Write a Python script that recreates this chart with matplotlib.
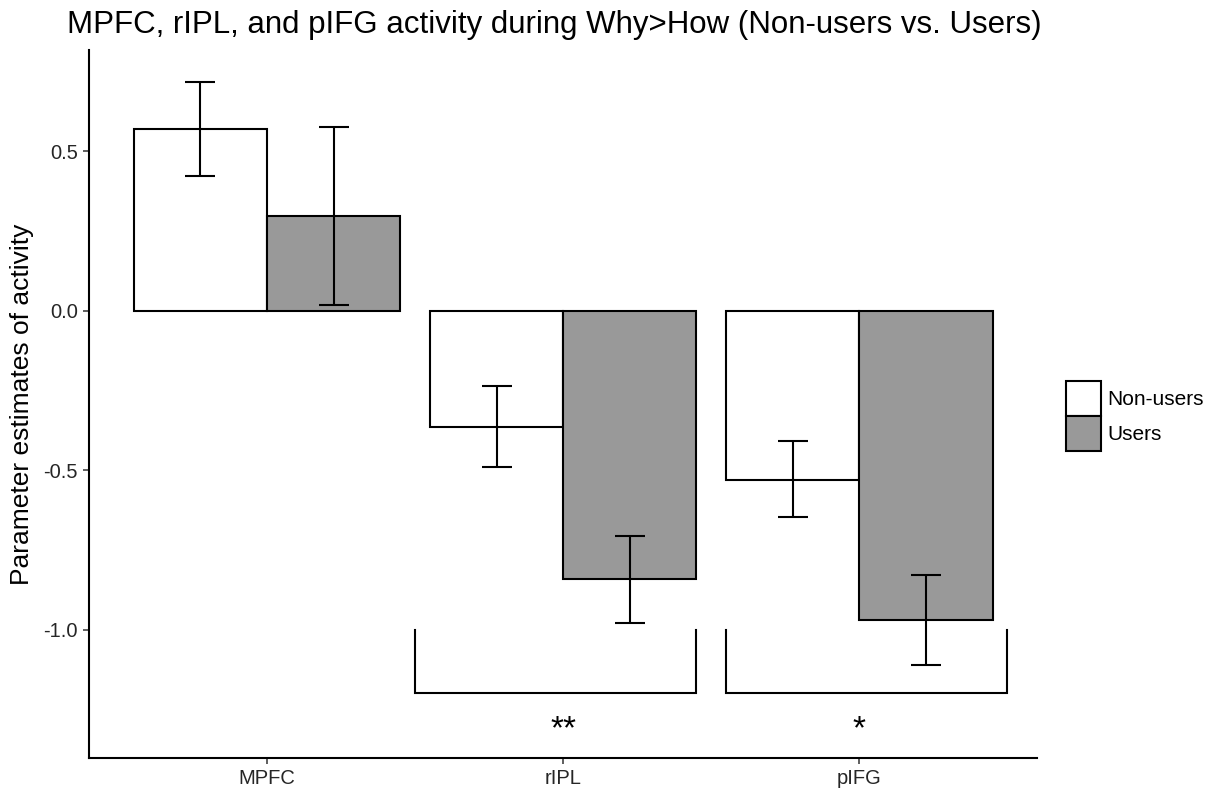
import numpy as np
import matplotlib
matplotlib.use('Agg')
import matplotlib.pyplot as plt
from matplotlib.patches import Patch

plt.rcParams['font.family'] = ['Liberation Sans', 'DejaVu Sans']

### Values
regions = ['MPFC', 'rIPL', 'pIFG']
groups = ['Non-users', 'Users']
nonusers = [0.570, -0.365, -0.530]
users = [0.297, -0.843, -0.970]
nonusers_low = [0.423, -0.491, -0.647]
nonusers_high = [0.716, -0.237, -0.409]
users_low = [0.018, -0.980, -1.110]
users_high = [0.577, -0.707, -0.830]
ytick_values = [-1.0, -0.5, 0.0, 0.5]

# significance brackets (x from / to in category units) and labels
bracket_spans = [(1.5, 2.45), (2.55, 3.5)]
bracket_top = -1.0
bracket_bottom = -1.2
star_pos = [2, 3]
star_labels = ['**', '*']
star_y = -1.34

fill_colors = ['white', '#999999']
title = 'MPFC, rIPL, and pIFG activity during Why>How (Non-users vs. Users)'

fig = plt.figure(figsize=(12.12, 7.93), dpi=100)
ax = fig.add_axes([0.0738, 0.0445, 0.7818, 0.8925])

x = np.arange(1, len(regions) + 1)
width = 0.45
series = [(nonusers, nonusers_low, nonusers_high), (users, users_low, users_high)]
for i, (vals, low, high) in enumerate(series):
    pos = x + (i - 0.5) * width
    ax.bar(pos, vals, width=width, color=fill_colors[i], edgecolor='black',
           linewidth=1.5, zorder=2)
    vals = np.array(vals)
    yerr = [vals - np.array(low), np.array(high) - vals]
    ax.errorbar(pos, vals, yerr=yerr, fmt='none', ecolor='black',
                elinewidth=1.5, capsize=10.8, capthick=1.5, zorder=3)

# brackets under rIPL and pIFG
for (x0, x1) in bracket_spans:
    ax.plot([x0, x0, x1, x1], [bracket_top, bracket_bottom, bracket_bottom, bracket_top],
            color='black', linewidth=1.5, solid_joinstyle='miter', zorder=2)
for xp, lab in zip(star_pos, star_labels):
    ax.text(xp, star_y, lab, ha='center', va='baseline', fontsize=24, color='black')

ax.set_xlim(0.4, 3.6)
ax.set_ylim(-1.402, 0.818)
ax.set_xticks(x)
ax.set_xticklabels(regions)
ax.set_yticks(ytick_values)
ax.set_yticklabels(['%.1f' % v for v in ytick_values])
ax.tick_params(axis='both', labelsize=14.5, labelcolor='#262626', color='#333333',
               length=4.3, width=1.1, pad=4)
for side in ['top', 'right']:
    ax.spines[side].set_visible(False)
for side in ['left', 'bottom']:
    ax.spines[side].set_linewidth(1.5)
    ax.spines[side].set_color('black')

ax.set_ylabel('Parameter estimates of activity', fontsize=19, labelpad=7)
fig.text(67 / 1212, 1 - 25 / 793, title, fontsize=22.5, ha='left', va='center')

# legend keys
handles = [Patch(facecolor=c, edgecolor='black', linewidth=1.5) for c in fill_colors]
fig.legend(handles, groups, loc='upper left', bbox_to_anchor=(1066 / 1212, 1 - 381 / 793),
           frameon=False, fontsize=15, handlelength=1.68, handleheight=2.21,
           labelspacing=0.0, borderpad=0.0, borderaxespad=0.0, handletextpad=0.3)

fig.savefig('out.png', dpi=100)
